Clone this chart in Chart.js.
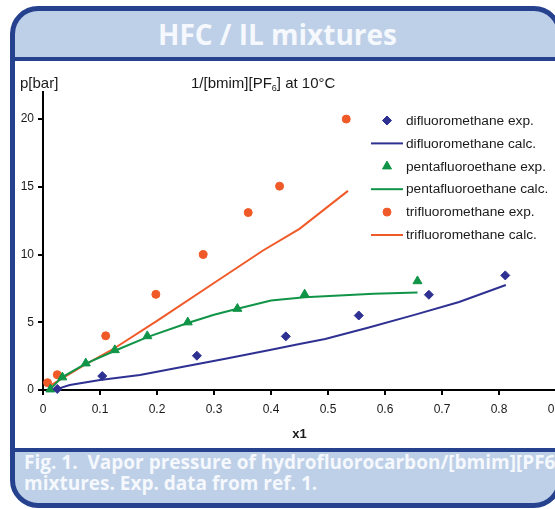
<!DOCTYPE html>
<html>
<head>
<meta charset="utf-8">
<script src="https://cdn.jsdelivr.net/npm/chart.js@4.4.1/dist/chart.umd.min.js"></script>
<style>
    html, body { margin: 0; padding: 0; overflow: hidden; background: #fff; }
    body { width: 555px; height: 509px; position: relative; }
    .panel {
        position: absolute; left: 10px; top: 6px; width: 552px; height: 502px;
        box-sizing: border-box; border: 5px solid #26428f; border-radius: 28px;
        background: #bed0e8; overflow: hidden;
        font-family: 'Open Sans', sans-serif; font-weight: bold; color: #f5f8fc;
    }
    .header {
        position: absolute; left: 0; top: 8.6px; width: 525px; text-align: center;
        font-size: 28px; line-height: 28px; white-space: nowrap;
    }
    .plot {
        position: absolute; left: 0; top: 46px; width: 100%; height: 395px;
        box-sizing: border-box; border-top: 4px solid #26428f; border-bottom: 4px solid #26428f;
        background: #fff;
    }
    .caption {
        position: absolute; left: 9px; top: 441px; white-space: nowrap;
        font-size: 19px; line-height: 20.5px;
    }
    #chartWrap { position: absolute; left: 0; top: 0; width: 600px; height: 509px; z-index: 2; }
</style>
</head>
<body>
<div class="panel">
    <div class="header">HFC / IL mixtures</div>
    <div class="plot"></div>
    <div class="caption">Fig. 1.&nbsp; Vapor pressure of hydrofluorocarbon/[bmim][PF6]<br>mixtures. Exp. data from ref. 1.</div>
</div>
<div id="chartWrap"><canvas id="hfcChart"></canvas></div>
<script>
// Data
const xTicks = [0, 0.1, 0.2, 0.3, 0.4, 0.5, 0.6, 0.7, 0.8, 0.9];
const yTicks = [0, 5, 10, 15, 20];

const difluoroExpX = [0.025, 0.104, 0.270, 0.426, 0.554, 0.677, 0.811];
const difluoroExpY = [0.08, 1.03, 2.53, 3.96, 5.5, 7.03, 8.46];
const difluoroCalcX = [0.025, 0.047, 0.1, 0.17, 0.246, 0.32, 0.398, 0.45, 0.495, 0.57, 0.65, 0.73, 0.812];
const difluoroCalcY = [0.08, 0.37, 0.74, 1.1, 1.72, 2.3, 2.95, 3.4, 3.76, 4.6, 5.53, 6.5, 7.75];

const pentaExpX = [0.013, 0.034, 0.075, 0.126, 0.183, 0.254, 0.341, 0.459, 0.657];
const pentaExpY = [0.05, 0.94, 1.97, 2.95, 3.98, 5.0, 6.0, 7.06, 8.04];
const pentaCalcX = [0.013, 0.034, 0.075, 0.126, 0.183, 0.254, 0.3, 0.341, 0.4, 0.459, 0.52, 0.58, 0.657];
const pentaCalcY = [0.1, 0.95, 1.95, 2.9, 3.9, 4.95, 5.55, 6.0, 6.6, 6.85, 6.98, 7.1, 7.2];

const trifluoroExpX = [0.008, 0.025, 0.11, 0.198, 0.281, 0.36, 0.415, 0.532];
const trifluoroExpY = [0.54, 1.13, 4.0, 7.06, 10.0, 13.1, 15.05, 20.0];
const trifluoroCalcX = [0.012, 0.075, 0.126, 0.2, 0.3, 0.386, 0.45, 0.535];
const trifluoroCalcY = [0.3, 1.9, 3.1, 5.1, 7.9, 10.3, 11.9, 14.7];

const seriesLabels = [
    'difluoromethane exp.', 'difluoromethane calc.',
    'pentafluoroethane exp.', 'pentafluoroethane calc.',
    'trifluoromethane exp.', 'trifluoromethane calc.'
];

const BLUE = '#2e3192';
const GREEN = '#109447';
const ORANGE = '#f05a28';

function points(xs, ys) {
    return xs.map((x, i) => ({ x: x, y: ys[i] }));
}

function expSet(label, xs, ys, color, style, radius) {
    return {
        label: label, data: points(xs, ys), showLine: false,
        pointStyle: style, pointRadius: radius, pointBorderWidth: 1,
        backgroundColor: color, borderColor: color, clip: false
    };
}

function calcSet(label, xs, ys, color) {
    return {
        label: label, data: points(xs, ys), showLine: true,
        pointRadius: 0, borderWidth: 2, borderColor: color,
        backgroundColor: color, tension: 0, clip: false
    };
}

// Side legend and free texts
const textPlugin = {
    id: 'texts',
    afterDraw(chart) {
        const ctx = chart.ctx;
        const area = chart.chartArea;
        ctx.save();
        ctx.fillStyle = '#1a1a1a';
        ctx.textBaseline = 'alphabetic';
        ctx.textAlign = 'left';

        ctx.font = '15px "Liberation Sans", Arial, sans-serif';
        ctx.fillText('p[bar]', 20, 88);

        // subtitle with subscript
        let x = 191;
        ctx.fillText('1/[bmim][PF', x, 88);
        x += ctx.measureText('1/[bmim][PF').width;
        ctx.font = '9px "Liberation Sans", Arial, sans-serif';
        ctx.fillText('6', x, 91);
        x += ctx.measureText('6').width;
        ctx.font = '15px "Liberation Sans", Arial, sans-serif';
        ctx.fillText('] at 10°C', x, 88);

        ctx.font = 'bold 13px "Liberation Sans", Arial, sans-serif';
        ctx.textAlign = 'center';
        ctx.fillText('x1', (area.left + area.right) / 2, 438);

        // legend
        ctx.textAlign = 'left';
        ctx.textBaseline = 'middle';
        chart.data.datasets.forEach((ds, i) => {
            const y = 120.5 + i * 22.9;
            ctx.fillStyle = ds.backgroundColor;
            ctx.strokeStyle = ds.borderColor;
            if (ds.showLine) {
                ctx.lineWidth = 2;
                ctx.beginPath();
                ctx.moveTo(371, y);
                ctx.lineTo(403, y);
                ctx.stroke();
            } else {
                ctx.lineWidth = 1;
                Chart.helpers.drawPoint(ctx, {
                    pointStyle: ds.pointStyle, radius: ds.pointRadius, borderWidth: 1, rotation: 0
                }, 387, y);
            }
            ctx.fillStyle = '#1a1a1a';
            ctx.font = '13.7px "Liberation Sans", Arial, sans-serif';
            ctx.fillText(ds.label, 406, y + 0.5);
        });
        ctx.restore();
    }
};

const ctx = document.getElementById('hfcChart').getContext('2d');
const hfcChart = new Chart(ctx, {
    type: 'scatter',
    data: {
        datasets: [
            expSet(seriesLabels[0], difluoroExpX, difluoroExpY, BLUE, 'rectRot', 4.5),
            calcSet(seriesLabels[1], difluoroCalcX, difluoroCalcY, BLUE),
            expSet(seriesLabels[2], pentaExpX, pentaExpY, GREEN, 'triangle', 5.2),
            calcSet(seriesLabels[3], pentaCalcX, pentaCalcY, GREEN),
            expSet(seriesLabels[4], trifluoroExpX, trifluoroExpY, ORANGE, 'circle', 4),
            calcSet(seriesLabels[5], trifluoroCalcX, trifluoroCalcY, ORANGE)
        ]
    },
    options: {
        responsive: true,
        maintainAspectRatio: false,
        animation: false,
        devicePixelRatio: 1,
        layout: { padding: { left: 0, top: 92, right: 44, bottom: 0 } },
        plugins: {
            legend: { display: false },
            tooltip: { enabled: false }
        },
        scales: {
            x: {
                type: 'linear', min: 0, max: 0.9,
                afterBuildTicks: s => { s.ticks = xTicks.map(v => ({ value: v })); },
                afterFit: s => { s.height = 119; },
                border: { color: '#000', width: 2 },
                grid: { drawOnChartArea: false, drawTicks: true, tickLength: 5, color: '#000', lineWidth: 2 },
                ticks: {
                    color: '#1a1a1a', padding: 7, maxRotation: 0, autoSkip: false,
                    font: { family: '"Liberation Sans", Arial, sans-serif', size: 12 },
                    callback: v => String(v)
                }
            },
            y: {
                type: 'linear', min: 0, max: 22,
                afterBuildTicks: s => { s.ticks = yTicks.map(v => ({ value: v })); },
                afterFit: s => { s.width = 43; },
                border: { color: '#000', width: 2 },
                grid: { drawOnChartArea: false, drawTicks: true, tickLength: 5, color: '#000', lineWidth: 2 },
                ticks: {
                    color: '#1a1a1a', padding: 4, autoSkip: false,
                    font: { family: '"Liberation Sans", Arial, sans-serif', size: 12 },
                    callback: v => String(v)
                }
            }
        }
    },
    plugins: [textPlugin]
});
</script>
</body>
</html>
